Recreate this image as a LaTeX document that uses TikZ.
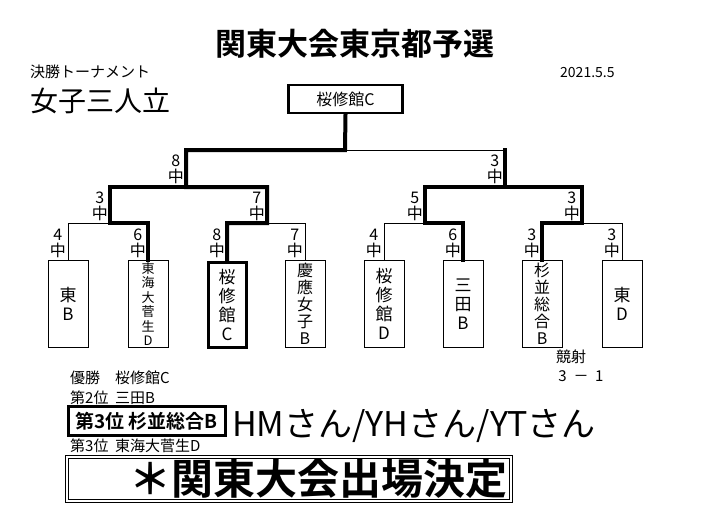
\documentclass[tikz,border=0pt]{standalone}
\usepackage{fontspec}
\setmainfont{Noto Sans CJK JP}[BoldFont={Noto Sans CJK JP Bold}]
\begin{document}
\begin{tikzpicture}[x=1pt,y=-1pt,
  thin line/.style={line width=0.8pt},
  win/.style={line width=4pt,line cap=rect},
  team/.style={draw,line width=0.8pt,minimum width=40pt,minimum height=87pt,anchor=north,inner sep=0pt,align=center,font=\fontsize{17}{19}\selectfont},
  lab/.style={anchor=east,inner sep=0pt,align=center,font=\fontsize{16}{16}\selectfont},
  txt/.style={anchor=west,inner sep=0pt}]
\useasboundingbox[fill=white] (0,0) rectangle (704,520);
\node[inner sep=0pt,font=\fontsize{31}{33}\bfseries\selectfont] (title) at (355,44) {関東大会東京都予選};
\node[txt,font=\fontsize{15}{17}\selectfont] (sub) at (30,72) {決勝トーナメント};
\node[txt,font=\fontsize{28}{30}\selectfont] (cat) at (30,101) {女子三人立};
\node[txt,font=\fontsize{14}{16}\selectfont] (date) at (560,73) {2021.5.5};
\node[draw,line width=2.5pt,minimum width=114pt,minimum height=28pt,font=\fontsize{16}{18}\selectfont] (top) at (345.5,99) {桜修館C};
% boxes
\node[team] (b1) at (68,260) {東\\B};
\node[team,font=\fontsize{13}{14.5}\selectfont] (b2) at (148,260) {東\\海\\大\\菅\\生\\D};
\node[team,line width=3pt,minimum width=38pt,minimum height=85pt] (b3) at (227,261) {桜\\修\\館\\C};
\node[team,font=\fontsize{16}{17}\selectfont] (b4) at (305,260) {慶\\應\\女\\子\\B};
\node[team] (b5) at (384,260) {桜\\修\\館\\D};
\node[team] (b6) at (463,260) {三\\田\\B};
\node[team,font=\fontsize{16}{17}\selectfont] (b7) at (542,260) {杉\\並\\総\\合\\B};
\node[team] (b8) at (622,260) {東\\D};
% thin lines
\draw[thin line] (345,150) -- (505,150);
\draw[thin line] (110,187) -- (186,187);
\draw[thin line] (505,187) -- (582,187);
\draw[thin line] (b1.north) -- (68,223) -- (110,223);
\draw[thin line] (b4.north) -- (305,223) -- (267,223);
\draw[thin line] (b5.north) -- (384,223) -- (425,223);
\draw[thin line] (b8.north) -- (622,223) -- (582,223);
% winners
\draw[win] (top.south) -- (345,150) -- (186,150) -- (186,187) -- (267,187) -- (267,223) -- (227,223) -- (b3.north);
\draw[win] (186,187) -- (110,187) -- (110,223) -- (148,223) -- (b2.north);
\draw[win] (505,150) -- (505,187) -- (425,187) -- (425,223) -- (463,223) -- (b6.north);
\draw[win] (505,187) -- (582,187) -- (582,223) -- (542,223) -- (b7.north);
% labels
\node[lab] (l1) at (184,169) {8\\中};
\node[lab] (l2) at (503,169) {3\\中};
\node[lab] (l3) at (108,206) {3\\中};
\node[lab] (l4) at (265,206) {7\\中};
\node[lab] (l5) at (423,206) {5\\中};
\node[lab] (l6) at (580,206) {3\\中};
\node[lab] (l7) at (66,243) {4\\中};
\node[lab] (l8) at (146,243) {6\\中};
\node[lab] (l9) at (225,243) {8\\中};
\node[lab] (l10) at (303,243) {7\\中};
\node[lab] (l11) at (382,243) {4\\中};
\node[lab] (l12) at (461,243) {6\\中};
\node[lab] (l13) at (540,243) {3\\中};
\node[lab] (l14) at (620,243) {3\\中};
\node[inner sep=0pt,font=\fontsize{15}{17}\selectfont] (ks) at (571,357) {競射};
\node[inner sep=0pt,font=\fontsize{15}{17}\selectfont] (ksc) at (581,376) {3\ \ －\ \ 1};
% results
\node[txt,font=\fontsize{15}{17}\selectfont] (r1) at (70,378) {優勝\quad 桜修館C};
\node[txt,font=\fontsize{15}{17}\selectfont] (r2) at (70,398) {第2位\ \ 三田B};
\node[draw,line width=3pt,minimum width=157pt,minimum height=29pt,inner sep=0pt,font=\fontsize{19}{21}\bfseries\selectfont] (r3) at (146.5,421) {第3位\ 杉並総合B};
\node[txt,font=\fontsize{34}{36}\selectfont] (hm) at (232,426) {HMさん/YHさん/YTさん};
\node[txt,font=\fontsize{15}{17}\selectfont] (r4) at (70,446) {第3位\ \ 東海大菅生D};
\node[draw,line width=0.8pt,minimum width=447pt,minimum height=47pt,inner sep=0pt] (fin) at (288.5,479) {};
\node[draw,line width=0.8pt,minimum width=441pt,minimum height=41pt,inner sep=0pt] (fin2) at (fin.center) {};
\node[inner sep=0pt,font=\fontsize{42}{44}\bfseries\selectfont] (fint) at (318,479) {＊関東大会出場決定};
\end{tikzpicture}
\end{document}
